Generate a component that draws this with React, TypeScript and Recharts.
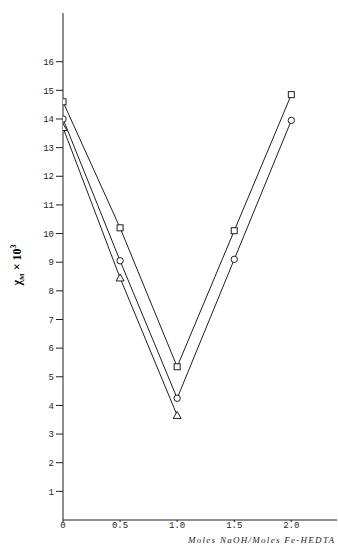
import { LineChart, Line, XAxis, YAxis, Label } from 'recharts';

/* Magnetic susceptibility vs. NaOH / Fe-HEDTA ratio — scanned plot rebuild */

const xValues = [0, 0.5, 1.0, 1.5, 2.0];
const squareSeries = [14.6, 10.2, 5.35, 10.1, 14.85];
const circleSeries = [14.0, 9.05, 4.25, 9.1, 13.95];
const triangleSeries: (number | null)[] = [13.7, 8.45, 3.65, null, null];

const xTicks = [0, 0.5, 1.0, 1.5, 2.0];
const yTicks = [1, 2, 3, 4, 5, 6, 7, 8, 9, 10, 11, 12, 13, 14, 15, 16];

const data = xValues.map((x, i) => ({
  x,
  square: squareSeries[i],
  circle: circleSeries[i],
  triangle: triangleSeries[i],
}));

const INK = '#1e1e1e';
const TICK_FONT = { fontFamily: 'Liberation Mono', fontSize: 9, fill: INK };

const SquareDot = (props: any) => {
  const { cx, cy, index } = props;
  if (cx == null || cy == null) return <g key={`sq-${index}`} />;
  return (
    <rect key={`sq-${index}`} x={cx - 3} y={cy - 3} width={6} height={6}
      fill="#fff" stroke={INK} strokeWidth={1} />
  );
};

const CircleDot = (props: any) => {
  const { cx, cy, index } = props;
  if (cx == null || cy == null) return <g key={`ci-${index}`} />;
  return <circle key={`ci-${index}`} cx={cx} cy={cy} r={3.2} fill="#fff" stroke={INK} strokeWidth={1} />;
};

const TriangleDot = (props: any) => {
  const { cx, cy, index } = props;
  if (cx == null || cy == null) return <g key={`tr-${index}`} />;
  return (
    <path key={`tr-${index}`} d={`M${cx},${cy - 4} L${cx + 4},${cy + 3} L${cx - 4},${cy + 3} Z`}
      fill="#fff" stroke={INK} strokeWidth={1} />
  );
};

const YLabel = () => (
  <text transform="translate(21,265) rotate(-90)" textAnchor="middle"
    fontFamily="Liberation Serif" fontWeight="bold" fontSize={12} fill="#000">
    <tspan>χ</tspan>
    <tspan fontSize={7} dy={3}>M</tspan>
    <tspan dy={-3}> × 10</tspan>
    <tspan fontSize={8} dy={-5}>3</tspan>
  </text>
);

const XLabel = () => (
  <text x={188} y={543} fontFamily="Liberation Serif" fontStyle="italic"
    fontSize={9} fill={INK} textLength={146}>
    Moles NaOH/Moles Fe-HEDTA
  </text>
);

const App = () => {
  return (
    <div style={{ position: 'absolute', top: 0, left: 0, background: '#fff' }}>
      <LineChart width={338} height={546} data={data}
        margin={{ top: 13, right: 1, bottom: 6, left: 23 }}>
        <XAxis
          dataKey="x"
          type="number"
          domain={[0, 2.4]}
          ticks={xTicks}
          tickFormatter={(v: number) => (v === 0 ? '0' : v.toFixed(1))}
          tick={TICK_FONT}
          tickSize={2}
          tickMargin={0}
          height={20}
          stroke={INK}
          allowDataOverflow
        >
          <Label content={<XLabel />} />
        </XAxis>
        <YAxis
          type="number"
          domain={[0, 17.7]}
          ticks={yTicks}
          tick={TICK_FONT}
          tickSize={7}
          tickMargin={2}
          width={40}
          stroke={INK}
          allowDataOverflow
        >
          <Label content={<YLabel />} />
        </YAxis>
        <Line dataKey="square" stroke={INK} strokeWidth={1} dot={SquareDot}
          isAnimationActive={false} />
        <Line dataKey="circle" stroke={INK} strokeWidth={1} dot={CircleDot}
          isAnimationActive={false} />
        <Line dataKey="triangle" stroke={INK} strokeWidth={1} dot={TriangleDot}
          isAnimationActive={false} />
      </LineChart>
    </div>
  );
};

export default App;
